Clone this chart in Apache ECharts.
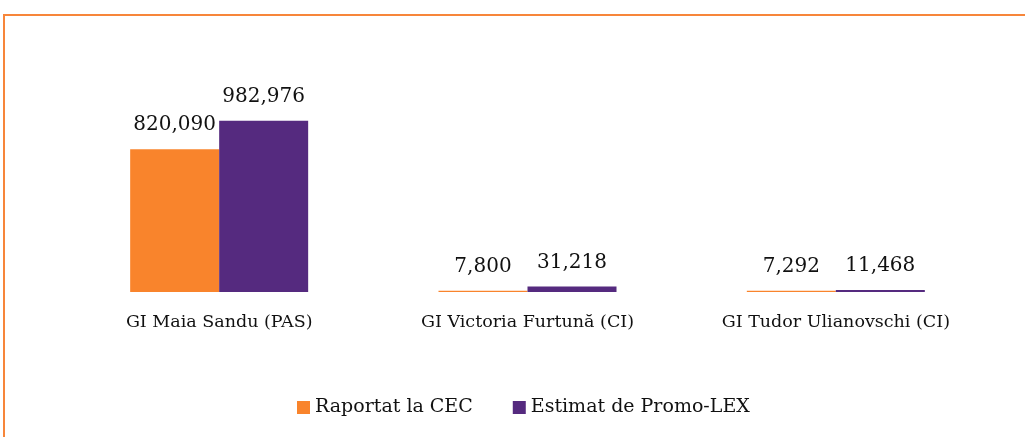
<!DOCTYPE html>
<html>
<head>
<meta charset="utf-8">
<script src="https://cdn.jsdelivr.net/npm/echarts@6/dist/echarts.min.js"></script>
<style>
  html, body { margin: 0; padding: 0; background: #fff; }
  #main { width: 1025px; height: 437px; }
</style>
</head>
<body>
<div id="main"></div>
<script>
    // date
    var categories = ['GI Maia Sandu (PAS)', 'GI Victoria Furtună (CI)', 'GI Tudor Ulianovschi (CI)'];
    var raportat = [820090, 7800, 7292];
    var estimat = [982976, 31218, 11468];

    var font = 'DejaVu Serif';
    var fmt = function (p) { return p.value.toLocaleString('en-US'); };

    var myChart = echarts.init(document.getElementById('main'));
    var option = {
        animation: false,
        graphic: [{
            type: 'rect',
            shape: {x: 4, y: 15, width: 1100, height: 500},
            style: {fill: 'none', stroke: '#F7863A', lineWidth: 2}
        }],
        grid: {left: 65, right: 35, top: 83, bottom: 145},
        legend: {
            bottom: 15,
            left: 292,
            itemWidth: 13,
            itemHeight: 13,
            itemGap: 40,
            icon: 'rect',
            textStyle: {fontFamily: font, fontSize: 19, color: '#111'},
            data: ['Raportat la CEC', 'Estimat de Promo-LEX']
        },
        xAxis: {
            type: 'category',
            data: categories,
            axisLine: {show: false},
            axisTick: {show: false},
            axisLabel: {fontFamily: font, fontSize: 17.5, color: '#111', margin: 21}
        },
        yAxis: {
            type: 'value',
            min: 0,
            max: 1200000,
            show: false,
            splitLine: {show: false}
        },
        series: [
            {
                name: 'Raportat la CEC',
                type: 'bar',
                data: raportat,
                barWidth: 89,
                barGap: '0%',
                itemStyle: {color: '#F9842C'},
                label: {show: true, position: 'top', distance: 14, formatter: fmt,
                    fontFamily: font, fontSize: 20, color: '#111'}
            },
            {
                name: 'Estimat de Promo-LEX',
                type: 'bar',
                data: estimat,
                barWidth: 89,
                itemStyle: {color: '#552A7F'},
                label: {show: true, position: 'top', distance: 14, formatter: fmt,
                    fontFamily: font, fontSize: 20, color: '#111'}
            }
        ]
    };
    myChart.setOption(option);
</script>
</body>
</html>
